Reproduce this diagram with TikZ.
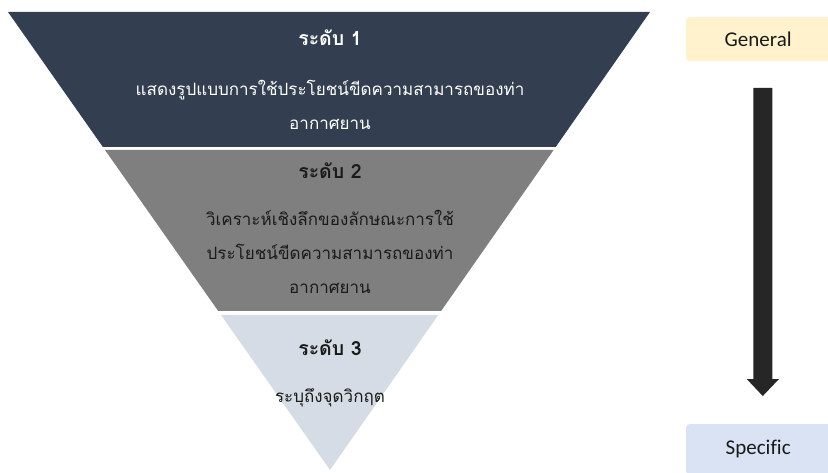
\documentclass[tikz,border=0pt]{standalone}
\usepackage{fontspec}
\setmainfont[Ligatures=NoCommon]{Carlito}
\newfontfamily\thaifont[Script=Thai]{Loma}
\definecolor{bandA}{HTML}{333F50}
\definecolor{bandB}{HTML}{7F7F7F}
\definecolor{bandC}{HTML}{D6DCE5}
\definecolor{genfill}{HTML}{FFF2CC}
\definecolor{specfill}{HTML}{DAE3F3}
\definecolor{arrowc}{HTML}{262626}
\definecolor{txtdark}{HTML}{1A1A1A}
\begin{document}
\begin{tikzpicture}[x=1pt,y=-1pt,
  title/.style={font=\thaifont\fontsize{19.5}{22}\selectfont\bfseries, anchor=center},
  body/.style={font=\thaifont\fontsize{17}{34}\selectfont, align=center, anchor=center},
  sidebox/.style={rounded corners=3pt, minimum width=150pt, anchor=north west, font=\fontsize{21}{24}\selectfont, text=txtdark}]
\useasboundingbox (0,0) rectangle (828,473);
% bands
\fill[bandA] (8,12) -- (650,12) -- (555.7,147) -- (102.9,147) -- cycle;
\fill[bandB] (105.0,150) -- (553.6,150) -- (441.1,311) -- (218.2,311) -- cycle;
\fill[bandC] (221.0,315) -- (438.3,315) -- (330,470) -- cycle;
% texts
\node[title, text=white] (t1) at (330,38) {ระดับ 1};
\node[body, text=white] (b1) at (330,105) {แสดงรูปแบบการใช้ประโยชน์ขีดความสามารถของท่า\\อากาศยาน};
\node[title, text=txtdark] (t2) at (330,171) {ระดับ 2};
\node[body, text=txtdark] (b2) at (330,252) {วิเคราะห์เชิงลึกของลักษณะการใช้\\ประโยชน์ขีดความสามารถของท่า\\อากาศยาน};
\node[title, text=txtdark] (t3) at (330,348) {ระดับ 3};
\node[body, text=txtdark] (b3) at (330,398) {ระบุถึงจุดวิกฤต};
% side boxes
\node[sidebox, fill=genfill, minimum height=44pt] (gen) at (686,17) {\hspace*{-6pt}General};
\node[sidebox, fill=specfill, minimum height=50pt] (spec) at (686,424) {\hspace*{-6pt}Specific};
% block arrow
\fill[arrowc] (753.3,88) -- (772.3,88) -- (772.3,379) -- (779,379) -- (762.8,396) -- (746.7,379) -- (753.3,379) -- cycle;
\end{tikzpicture}
\end{document}
